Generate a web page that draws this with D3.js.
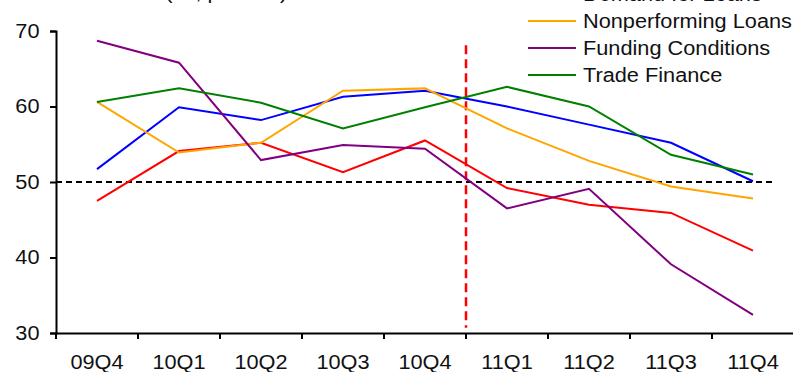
<!DOCTYPE html>
<html>
  <head>
    <meta charset="utf-8" />
    <script src="https://d3js.org/d3.v7.min.js"></script>
    <style>
      body {
        margin: 0;
        background: #fff;
      }
      svg {
        display: block;
      }
      svg text {
        font-family: "Liberation Sans", Arial, sans-serif;
        fill: #111;
      }
    </style>
  </head>
  <body>
    <svg id="chart" width="793" height="372"></svg>
    <script>
      // quarters on the x axis
      var quarters = ["09Q4", "10Q1", "10Q2", "10Q3", "10Q4", "11Q1", "11Q2", "11Q3", "11Q4"];
      var yTicks = [30, 40, 50, 60, 70];

      // series values
      var creditStandards = [47.5, 54.1, 55.2, 51.3, 55.5, 49.2, 47.0, 45.9, 40.9];
      var demandForLoans = [51.7, 59.9, 58.2, 61.3, 62.1, 60.0, 57.6, 55.2, 50.1];
      var nonperformingLoans = [60.6, 53.9, 55.2, 62.1, 62.4, 57.1, 52.8, 49.4, 47.8];
      var fundingConditions = [68.7, 65.8, 52.9, 54.9, 54.4, 46.5, 49.1, 39.1, 32.4];
      var tradeFinance = [60.6, 62.4, 60.5, 57.1, 59.9, 62.6, 60.0, 53.6, 51.0];

      var seriesColors = ["#ff0000", "#0000ff", "#ffa500", "#800080", "#008000"];
      var seriesValues = [creditStandards, demandForLoans, nonperformingLoans, fundingConditions, tradeFinance];

      // legend rows that are visible (the red one sits above the frame)
      var legendNames = ["Demand for Loans", "Nonperforming Loans", "Funding Conditions", "Trade Finance"];
      var legendColors = ["#0000ff", "#ffa500", "#800080", "#008000"];

      var neutral = 50;
      var forecastStart = "11Q1";

      var svg = d3.select("#chart"),
        margin = { top: 31, bottom: 39, left: 56, right: -1 },
        width = +svg.attr("width"),
        height = +svg.attr("height");

      // the source font renders a bit wider than Liberation Sans
      var fontSize = "20px",
        stretch = "scale(1.087,1)";

      var x = d3
        .scaleBand()
        .domain(quarters)
        .range([margin.left, width - margin.right])
        .padding(0);

      var y = d3
        .scaleLinear()
        .domain([30, 70])
        .range([height - margin.bottom, margin.top]);

      // title, mostly cut off at the top edge
      svg
        .append("text")
        .attr("transform", "translate(16,-1) " + stretch)
        .style("font-size", fontSize)
        .text("Diffusion Index (sa, percent)");

      // y axis
      svg
        .append("g")
        .attr("class", "y-axis")
        .attr("transform", "translate(" + margin.left + ",0)")
        .call(d3.axisLeft(y).tickValues(yTicks).tickSize(6).tickPadding(10))
        .call((g) =>
          g
            .selectAll("text")
            .style("font-size", fontSize)
            .attr("fill", "#111")
            .attr("x", -15.2)
            .attr("transform", stretch)
        )
        .call((g) => g.selectAll("path, line").attr("stroke", "#000").attr("stroke-width", 2));

      // x axis labels at band centres
      svg
        .append("g")
        .attr("class", "x-axis")
        .attr("transform", "translate(0," + y(30) + ")")
        .call(d3.axisBottom(x).tickSize(0).tickPadding(22).tickSizeOuter(0))
        .call((g) =>
          g.selectAll("text").style("font-size", fontSize).attr("fill", "#111").attr("transform", stretch)
        )
        .call((g) => g.select(".domain").attr("stroke", "#000").attr("stroke-width", 2));

      // x ticks on band boundaries
      var bounds = quarters.map((q) => x(q)).concat([x.range()[1]]);
      svg
        .append("g")
        .selectAll("line")
        .data(bounds)
        .enter()
        .append("line")
        .attr("x1", (d) => d)
        .attr("x2", (d) => d)
        .attr("y1", y(30))
        .attr("y2", y(30) + 6)
        .attr("stroke", "#000")
        .attr("stroke-width", 2);

      // neutral 50 line
      svg
        .append("line")
        .attr("x1", margin.left)
        .attr("x2", x("11Q4") + x.bandwidth() - 18)
        .attr("y1", y(neutral))
        .attr("y2", y(neutral))
        .attr("stroke", "#000")
        .attr("stroke-width", 2)
        .attr("stroke-dasharray", "6,4");

      // forecast divider
      svg
        .append("line")
        .attr("x1", x(forecastStart))
        .attr("x2", x(forecastStart))
        .attr("y1", y(68.1))
        .attr("y2", y(30.7))
        .attr("stroke", "#ff0000")
        .attr("stroke-width", 2.5)
        .attr("stroke-dasharray", "9,5");

      var line = d3
        .line()
        .x((d, i) => x(quarters[i]) + x.bandwidth() / 2)
        .y((d) => y(d));

      svg
        .append("g")
        .selectAll("path")
        .data(seriesValues)
        .enter()
        .append("path")
        .attr("fill", "none")
        .attr("stroke", (d, i) => seriesColors[i])
        .attr("stroke-width", 2)
        .attr("d", line);

      // legend, top right (first row cut off by the frame)
      var legend = svg
        .append("g")
        .selectAll("g")
        .data(legendNames)
        .enter()
        .append("g")
        .attr("transform", (d, i) => "translate(528," + (21 + (i - 1) * 27) + ")");

      legend
        .append("line")
        .attr("x1", 0)
        .attr("x2", 48)
        .attr("stroke", (d, i) => legendColors[i])
        .attr("stroke-width", 2);

      legend
        .append("text")
        .attr("transform", "translate(55,6.8) " + stretch)
        .style("font-size", fontSize)
        .text((d) => d);
    </script>
  </body>
</html>
